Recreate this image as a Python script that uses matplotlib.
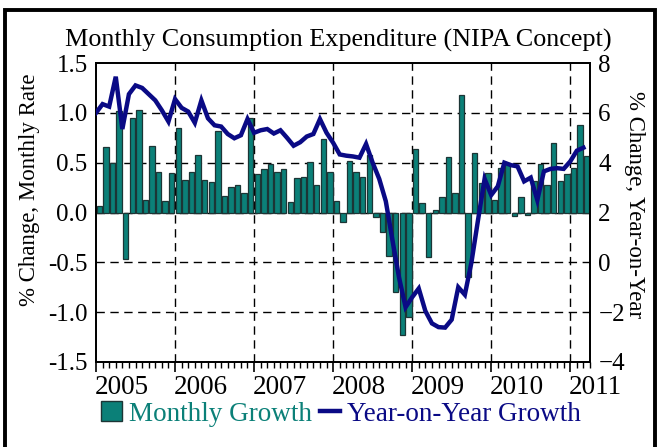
import matplotlib
matplotlib.use("Agg")
import matplotlib.pyplot as plt
import matplotlib.transforms as mtransforms
from matplotlib.patches import Patch, Rectangle
from matplotlib.lines import Line2D
import numpy as np

plt.rcParams['font.family'] = ['Liberation Serif', 'DejaVu Serif']

title = "Monthly Consumption Expenditure (NIPA Concept)"
years = ["2005", "2006", "2007", "2008", "2009", "2010", "2011"]
left_label = "% Change, Monthly Rate"
right_label = "% Change, Year-on-Year"
bar_name = "Monthly Growth"
line_name = "Year-on-Year Growth"

# Jan 2005 .. Mar 2011
monthly = [0.07, 0.66, 0.50, 1.02, -0.47, 0.95, 1.03, 0.13, 0.67, 0.41, 0.12, 0.40,
           0.85, 0.33, 0.41, 0.58, 0.33, 0.31, 0.82, 0.17, 0.26, 0.28, 0.20, 0.95,
           0.39, 0.44, 0.49, 0.41, 0.44, 0.11, 0.35, 0.36, 0.51, 0.28, 0.74, 0.41,
           0.12, -0.10, 0.52, 0.41, 0.36, 0.58, -0.05, -0.20, -0.44, -0.80, -1.23, -1.05,
           0.64, 0.10, -0.45, 0.03, 0.16, 0.56, 0.20, 1.18, -0.65, 0.60, 0.30, 0.40,
           0.13, 0.45, 0.50, -0.04, 0.16, -0.03, 0.32, 0.49, 0.28, 0.70, 0.32, 0.39,
           0.45, 0.88, 0.57]
yoy = [6.00, 6.35, 6.25, 7.45, 5.35, 6.75, 7.10, 7.00, 6.75, 6.50, 6.10, 5.65,
       6.55, 6.20, 6.05, 5.60, 6.50, 5.78, 5.50, 5.45, 5.15, 4.98, 5.10, 5.75,
       5.20, 5.30, 5.35, 5.17, 5.30, 5.00, 4.68, 4.82, 5.05, 5.15, 5.75, 5.20,
       4.80, 4.33, 4.28, 4.25, 4.20, 4.75, 4.00, 3.35, 2.45, 0.90, -0.60, -1.80,
       -1.40, -1.05, -1.95, -2.45, -2.60, -2.62, -2.30, -1.00, -1.30, 0.00, 1.70, 3.35,
       2.70, 3.05, 4.00, 3.90, 3.85, 3.25, 3.40, 2.50, 3.65, 3.75, 3.78, 3.75,
       4.05, 4.48, 4.60]

teal = "#0b8078"
navy = "#0a0a85"

n = len(monthly)
x = np.arange(n)

fig = plt.figure(figsize=(6.6, 4.47), dpi=100)
ax = fig.add_axes([96/660, 1 - 362/447, (590-96)/660, (362-63)/447])
ax2 = ax.twinx()

ax.bar(x, monthly, width=0.82, color=teal, edgecolor="#1c3535", linewidth=0.9, zorder=3)
ax.set_ylim(-1.5, 1.5)
ax.set_xlim(-0.5, n - 0.5)
ax.set_yticks([-1.5, -1.0, -0.5, 0.0, 0.5, 1.0, 1.5])
ax.set_yticklabels(["-1.5", "-1.0", "-0.5", "0.0", "0.5", "1.0", "1.5"])

ax2.plot(x - 0.5, yoy, color=navy, lw=3.2, zorder=4, solid_joinstyle='miter')
ax2.set_ylim(-4, 8)
ax2.set_yticks([-4, -2, 0, 2, 4, 6, 8])

# grid
for yv in [-1.0, -0.5, 0.0, 0.5, 1.0]:
    ax.axhline(yv, color="black", lw=1.0, ls=(0, (6, 4)), zorder=1)
year_pos = [12 * k - 0.5 for k in range(len(years))]
for xv in year_pos[1:]:
    ax.axvline(xv, color="black", lw=1.0, ls=(0, (6, 4)), zorder=1)

ax.set_xticks(year_pos)
ax.set_xticklabels(years)
ax.set_xticks(np.arange(-0.5, n, 1), minor=True)
ax.tick_params(axis='x', which='major', length=7, width=1.2, direction='out', labelsize=19.5, pad=2)
ax.tick_params(axis='x', which='minor', length=4, width=1.0, direction='out')
offset = mtransforms.ScaledTranslation(-1/100, 0, fig.dpi_scale_trans)
for lab in ax.get_xticklabels():
    lab.set_horizontalalignment('left')
    lab.set_transform(lab.get_transform() + offset)
ax.tick_params(axis='y', length=0, labelsize=18, pad=6)
ax2.tick_params(axis='y', length=0, labelsize=18, pad=6)

for a in (ax, ax2):
    for s in a.spines.values():
        s.set_linewidth(1.3)

ax.set_zorder(ax2.get_zorder() - 1)
ax.patch.set_visible(True)
ax2.patch.set_visible(False)

fig.text(338/660, 1 - 40/447, title, ha='center', va='center', fontsize=18.8)
fig.text(30/660, 1 - 190/447, left_label, ha='center', va='center', rotation=90, fontsize=16.5)
fig.text(634/660, 1 - 205/447, right_label, ha='center', va='center', rotation=270, fontsize=16.5)

handles = [Patch(facecolor=teal, edgecolor="#1c3535", linewidth=1.0),
           Line2D([0], [0], color=navy, lw=3.2)]
leg = fig.legend(handles, [bar_name, line_name], loc='center', bbox_to_anchor=(341/660, 1 - 414/447),
                 ncol=2, frameon=False, fontsize=19.5, handlelength=0.75, handleheight=0.75,
                 handletextpad=0.25, columnspacing=0.3, borderpad=0)
for t, c in zip(leg.get_texts(), [teal, navy]):
    t.set_color(c)

fig.patches.append(Rectangle((5/660, -0.05), (655-5)/660, 1.05 - 10/447, transform=fig.transFigure,
                             fill=False, edgecolor="black", linewidth=2.8))

fig.savefig("out.png", dpi=100, facecolor="white")
